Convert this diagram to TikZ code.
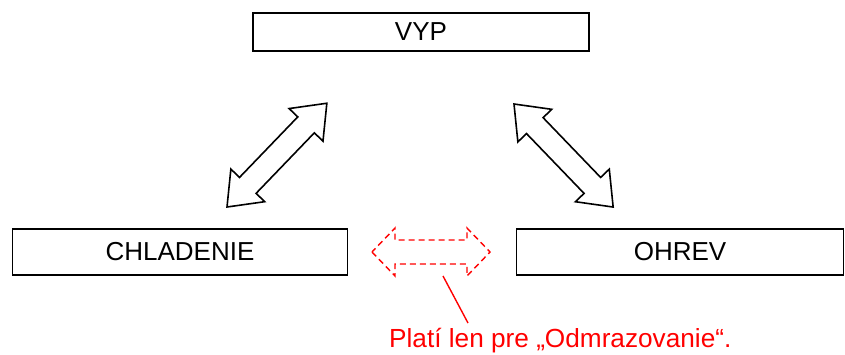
\documentclass[tikz,border=0pt]{standalone}
\usepackage{fontspec}
\setmainfont{Liberation Sans}
\begin{document}
\begin{tikzpicture}[x=1pt,y=-1pt,
  box/.style={draw=black,line width=1.6pt,inner sep=0pt,font=\fontsize{26}{30}\selectfont},
  arrowline/.style={draw=black,line width=1.6pt,line join=miter},
  redarrow/.style={draw=red,line width=1.4pt,dash pattern=on 6pt off 4pt},
  dblarrow/.pic={
    \path[pic actions] (0,0) -- (\arrA,\arrH) -- (\arrA,\arrW) -- (\arrL-\arrA,\arrW) -- (\arrL-\arrA,\arrH)
      -- (\arrL,0) -- (\arrL-\arrA,-\arrH) -- (\arrL-\arrA,-\arrW) -- (\arrA,-\arrW) -- (\arrA,-\arrH) -- cycle;
  }]
\useasboundingbox (0,0) rectangle (845,354);
\node[box,minimum width=336pt,minimum height=38pt] (vyp) at (421,32) {VYP};
\node[box,minimum width=335pt,minimum height=46pt] (chl) at (180,252) {CHLADENIE};
\node[box,minimum width=327pt,minimum height=46pt] (ohr) at (680,252) {OHREV};
% left double arrow
\def\arrA{30}\def\arrH{23.5}\def\arrW{11.5}\def\arrL{144}
\pic[arrowline,rotate=46.1] at (227,207) {dblarrow};
% right double arrow
\def\arrL{143}
\pic[arrowline,rotate=-46.1] at (514,104) {dblarrow};
% red dashed double arrow
\def\arrA{23}\def\arrH{24}\def\arrW{12}\def\arrL{118}
\pic[redarrow] at (372,252) {dblarrow};
\coordinate (cs) at (443,276);
\node[anchor=base west,inner sep=0pt,text=red,font=\fontsize{26.2}{30}\selectfont] (note) at (389,347) {Platí len pre „Odmrazovanie“.};
\coordinate (ce) at (468,323);
\draw[red,line width=1.4pt] (cs) -- (ce);
\end{tikzpicture}
\end{document}
